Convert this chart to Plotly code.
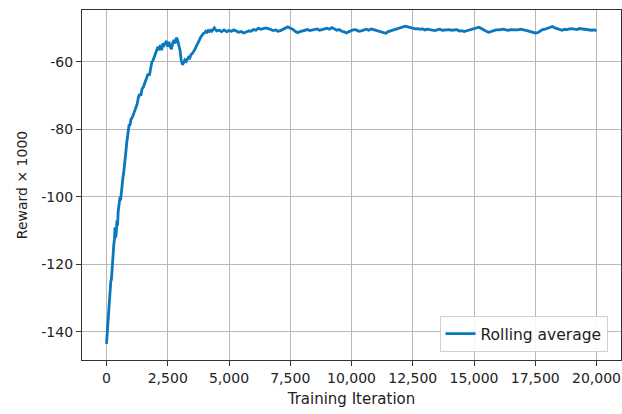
import plotly.graph_objects as go

seg1_start, seg1_step = 0, 25
seg1_values = [
    -143.5, -141, -136.5, -133, -131.5, -128, -127.5, -125, -124.5, -121,
    -119.5, -116, -114, -112.5, -109, -112, -110.5, -107, -108.5, -104.5,
    -103, -102.5, -100, -101, -98.5, -96, -96.5, -94, -93, -91.5,
    -90.5, -88, -86, -84, -82, -80.5, -79.5, -78.5, -79, -77.5, -77,
]
seg2_start, seg2_step = 1050, 50
seg2_values = [
    -76.5, -75.5, -74, -73, -72.5, -70.5, -69.5, -70, -68, -67.5,
    -66.5, -65.5, -65, -63.5, -64, -62, -60, -59.5, -58.5, -58,
    -57, -55.5, -56.5, -55, -56.5, -54.5, -55, -54.5, -53.8, -55.5,
    -54, -55.5, -56.2, -54.5, -53.5, -54.5, -52.8, -53.5, -55, -56.5,
]
seg3_start, seg3_step = 3050, 50
seg3_values = [
    -59.5, -60.8, -60.2, -59.4, -59.8, -59, -58.6, -58.8, -57.8, -57.5,
    -57, -56.4, -55.6, -55, -54.2, -53.4, -52.6, -52, -51.6, -51.4,
    -50.9, -51.2, -50.7, -51, -50.6, -50.9, -50.2, -49.9, -50.4, -50.8,
]
seg4_start, seg4_step = 4600, 100
seg4_values = [
    -50.6, -51.0, -50.5, -51.0, -50.7, -50.9, -50.5, -50.8, -51.2, -51.0,
    -51.4, -51.1, -50.8, -50.9, -50.4, -50.6, -50.0, -50.3, -50.2, -49.9,
    -50.1, -50.4, -50.7, -50.5, -50.9, -50.7, -50.4, -49.9, -49.6, -50.0,
    -50.3, -50.9, -51.3, -51.0, -50.8, -50.5, -50.4, -50.7, -50.6, -50.3,
    -50.2, -50.6, -50.5, -50.2, -50.0, -50.3, -49.8, -50.2, -50.6, -50.4,
    -50.9, -51.1, -51.4, -51.0, -50.7, -50.4, -50.5, -50.9, -50.8, -50.5,
    -50.3, -50.6, -50.2, -50.4, -50.6, -50.9, -51.0, -51.3, -51.5, -51.0,
    -50.8, -50.6, -50.4, -50.2, -50.0, -49.7, -49.4, -49.6, -49.8, -50.0,
    -50.2, -50.1, -50.3, -50.2, -50.5, -50.3, -50.4, -50.6, -50.7, -50.5,
    -50.3, -50.6, -50.5, -50.3, -50.4, -50.6, -50.6, -50.4, -50.8, -50.7,
    -51.0, -50.8, -50.5, -50.3, -50.0, -49.8, -49.7, -50.1, -50.6, -50.9,
    -51.2, -50.9, -50.7, -50.5, -50.5, -50.4, -50.3, -50.5, -50.6, -50.4,
    -50.4, -50.6, -50.5, -50.3, -50.4, -50.6, -50.8, -51.0, -51.2, -51.4,
    -51.3, -50.8, -50.4, -50.3, -50.1, -49.8, -49.5, -49.9, -50.2, -50.5,
    -50.6, -50.3, -50.4, -50.2, -50.1, -50.3, -50.4, -50.1, -50.2, -50.4,
    -50.5, -50.4, -50.6, -50.5, -50.7,
]

iterations = []
rolling_avg = []
for start, step, vals in [
    (seg1_start, seg1_step, seg1_values),
    (seg2_start, seg2_step, seg2_values),
    (seg3_start, seg3_step, seg3_values),
    (seg4_start, seg4_step, seg4_values),
]:
    iterations += [start + step * i for i in range(len(vals))]
    rolling_avg += vals

x_ticks = [0, 2500, 5000, 7500, 10000, 12500, 15000, 17500, 20000]
x_tick_labels = ["0", "2,500", "5,000", "7,500", "10,000", "12,500", "15,000", "17,500", "20,000"]
y_ticks = [-140, -120, -100, -80, -60]
y_tick_labels = ["-140", "-120", "-100", "-80", "-60"]

font_family = "DejaVu Sans"
text_color = "#222222"

fig = go.Figure()
fig.add_trace(go.Scatter(
    x=iterations, y=rolling_avg, mode="lines", name="Rolling average",
    line=dict(color="#0a78bd", width=2.8),
))

fig.update_layout(
    width=622, height=414,
    margin=dict(l=82, r=1, t=10, b=54),
    paper_bgcolor="white", plot_bgcolor="white",
    font=dict(family=font_family, size=14, color=text_color),
    showlegend=True,
    legend=dict(
        x=0.975, y=0.023, xanchor="right", yanchor="bottom",
        bgcolor="rgba(255,255,255,0.85)", bordercolor="#d0d0d0", borderwidth=1,
        font=dict(family=font_family, size=15.5, color=text_color),
    ),
)

fig.update_xaxes(
    range=[-1000, 21000], tickvals=x_ticks, ticktext=x_tick_labels,
    tickfont=dict(size=14),
    showgrid=True, gridcolor="#b8b8b8", gridwidth=1.2,
    showline=True, linecolor="#333333", linewidth=1.2, mirror=True,
    ticks="outside", ticklen=5, tickcolor="#333333", zeroline=False,
    automargin=False,
    title=dict(text="Training Iteration", standoff=8, font=dict(size=15)),
)
fig.update_yaxes(
    range=[-148.3, -44.6], tickvals=y_ticks, ticktext=y_tick_labels,
    tickfont=dict(size=14),
    showgrid=True, gridcolor="#b8b8b8", gridwidth=1.2,
    showline=True, linecolor="#333333", linewidth=1.2, mirror=True,
    ticks="outside", ticklen=5, tickcolor="#333333", zeroline=False,
    automargin=False,
    title=dict(text="Reward × 1000", standoff=10, font=dict(size=14)),
)

fig.write_html(
    "out.html",
    config={"displayModeBar": False},
    post_script="document.body.style.margin='0';document.body.style.overflow='hidden';",
)
